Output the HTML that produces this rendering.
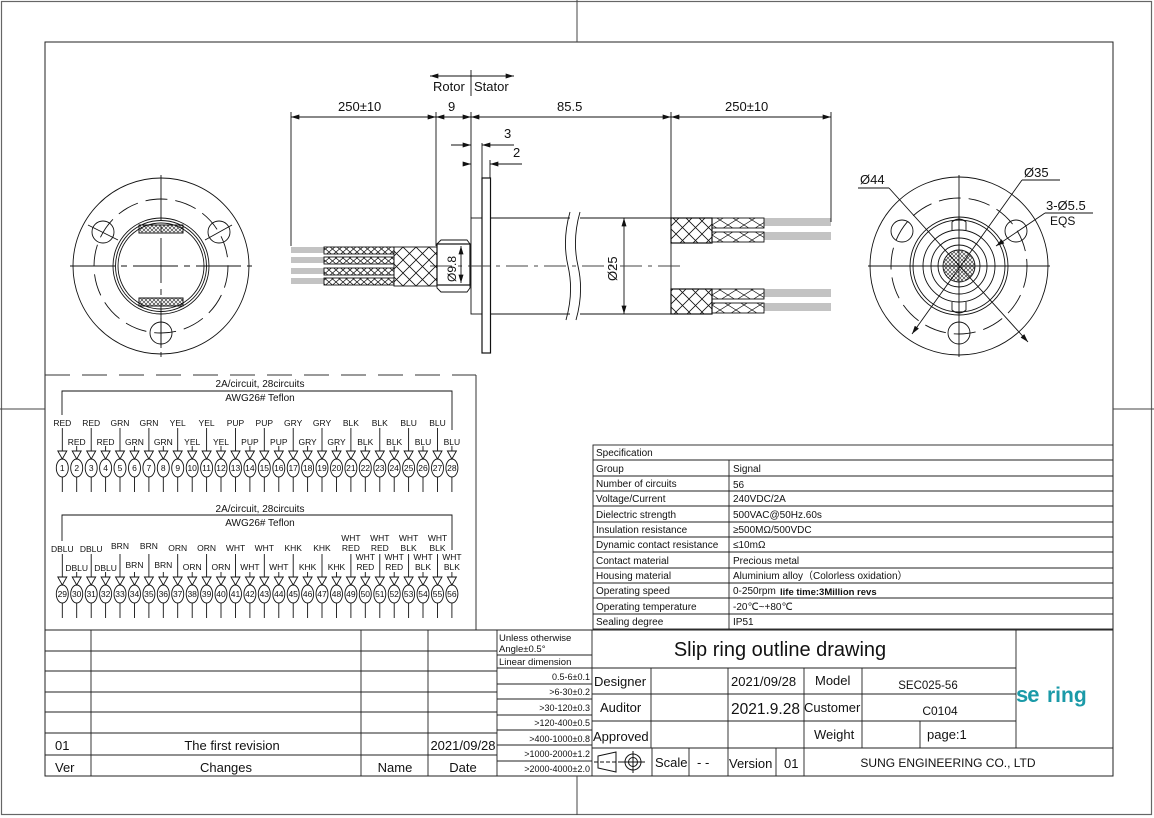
<!DOCTYPE html>
<html><head><meta charset="utf-8"><style>
html,body{margin:0;padding:0;background:#fff;}
svg{display:block;font-family:"Liberation Sans",Arial,sans-serif;}
</style></head><body>
<svg width="1154" height="818" viewBox="0 0 1154 818" xmlns="http://www.w3.org/2000/svg">
<defs>
<pattern id="hb" width="13" height="13" patternUnits="userSpaceOnUse"><path d="M0,0L13,13M13,0L0,13" stroke="#111" stroke-width="0.8"/></pattern>
<pattern id="hs" width="7" height="6" patternUnits="userSpaceOnUse"><path d="M0,0L7,6M7,0L0,6" stroke="#111" stroke-width="0.7"/></pattern>
<pattern id="hr" width="16" height="10" patternUnits="userSpaceOnUse"><path d="M0,0L16,10M16,0L0,10" stroke="#111" stroke-width="0.7"/></pattern>
<pattern id="dots" width="4" height="4" patternUnits="userSpaceOnUse"><circle cx="2" cy="2" r="1.4" fill="none" stroke="#111" stroke-width="0.6"/></pattern>
<marker id="ar" viewBox="0 0 10 6" refX="10" refY="3" markerWidth="9" markerHeight="5" orient="auto-start-reverse" markerUnits="userSpaceOnUse"><path d="M0,0L10,3L0,6z" fill="#111"/></marker>
<g id="wo" stroke="#111" fill="none" stroke-width="0.9"><line x1="0" y1="428" x2="0" y2="451"/><polygon points="-4.5,451 4.5,451 0,459"/><ellipse cx="0" cy="468" rx="6" ry="9"/><line x1="0" y1="477" x2="0" y2="492"/></g>
<g id="we" stroke="#111" fill="none" stroke-width="0.9"><line x1="0" y1="446" x2="0" y2="451"/><polygon points="-4.5,451 4.5,451 0,459"/><ellipse cx="0" cy="468" rx="6" ry="9"/><line x1="0" y1="477" x2="0" y2="492"/></g>
</defs>

<!-- frames -->
<rect x="1.5" y="1.5" width="1150" height="813" fill="none" stroke="#666" stroke-width="1.2"/>
<rect x="45" y="42" width="1068" height="734" fill="none" stroke="#222" stroke-width="1"/>
<line x1="577" y1="0" x2="577" y2="42" stroke="#444"/>
<line x1="577" y1="776" x2="577" y2="815" stroke="#444"/>
<line x1="0" y1="409" x2="45" y2="409" stroke="#444"/>
<line x1="1113" y1="409" x2="1154" y2="409" stroke="#444"/>

<g stroke="#111" fill="none" stroke-width="0.9">
<!-- Left flange view -->
<circle cx="161" cy="266" r="88"/>
<circle cx="161" cy="266" r="67" stroke-dasharray="22,8"/>
<circle cx="103" cy="232" r="11"/><circle cx="219" cy="232" r="11"/><circle cx="161" cy="333" r="11"/>
<circle cx="161" cy="266" r="48"/><circle cx="161" cy="266" r="45.5"/><circle cx="161" cy="266" r="43"/>
<line x1="70" y1="266" x2="252" y2="266" stroke-dasharray="45,6,6,6"/>
<line x1="161" y1="175" x2="161" y2="357" stroke-dasharray="45,6,6,6"/>
<line x1="88" y1="225" x2="118" y2="240"/><line x1="205" y1="240" x2="232" y2="225"/>
<line x1="161" y1="318" x2="161" y2="348"/>
<rect x="139" y="225" width="44" height="8" fill="url(#dots)" stroke-width="1"/>
<rect x="139" y="298" width="44" height="8" fill="url(#dots)" stroke-width="1"/>

<!-- Right flange view -->
<circle cx="959" cy="266" r="89"/>
<circle cx="959" cy="266" r="68" stroke-dasharray="22,8"/>
<circle cx="902" cy="231" r="11"/><circle cx="1016" cy="231" r="11"/><circle cx="959" cy="333" r="11"/>
<circle cx="959" cy="266" r="49"/><circle cx="959" cy="266" r="46"/>
<circle cx="959" cy="266" r="36"/><circle cx="959" cy="266" r="28"/><circle cx="959" cy="266" r="21"/>
<circle cx="959" cy="266" r="16" fill="url(#dots)"/>
<path d="M952,230 L952,222 Q959,216 966,222 L966,230"/><path d="M952,302 L952,310 Q959,316 966,310 L966,302"/>
<line x1="868" y1="266" x2="1050" y2="266"/><line x1="959" y1="175" x2="959" y2="357"/>
<line x1="858" y1="188" x2="889" y2="188"/><line x1="889" y1="188" x2="1028" y2="342" marker-end="url(#ar)"/>
<line x1="1060" y1="180" x2="1022" y2="180"/><line x1="1022" y1="180" x2="912" y2="334" marker-end="url(#ar)"/>
<line x1="1093" y1="213" x2="1045" y2="213"/><line x1="1045" y1="213" x2="996" y2="246" marker-end="url(#ar)"/>

<!-- Side view dims -->
<line x1="471" y1="70" x2="471" y2="96"/>
<line x1="471" y1="76" x2="430" y2="76" marker-end="url(#ar)"/>
<line x1="471" y1="76" x2="514" y2="76" marker-end="url(#ar)"/>
<line x1="291" y1="117" x2="436" y2="117" marker-start="url(#ar)" marker-end="url(#ar)"/>
<line x1="436" y1="117" x2="471" y2="117" marker-start="url(#ar)" marker-end="url(#ar)"/>
<line x1="471" y1="117" x2="671" y2="117" marker-start="url(#ar)" marker-end="url(#ar)"/>
<line x1="671" y1="117" x2="831" y2="117" marker-start="url(#ar)" marker-end="url(#ar)"/>
<line x1="291" y1="112" x2="291" y2="246"/><line x1="436" y1="112" x2="436" y2="246"/>
<line x1="471" y1="112" x2="471" y2="218"/><line x1="671" y1="112" x2="671" y2="218"/><line x1="831" y1="112" x2="831" y2="222"/>
<line x1="451" y1="145" x2="471" y2="145" marker-end="url(#ar)"/>
<line x1="514" y1="145" x2="482" y2="145" marker-end="url(#ar)"/>
<line x1="482" y1="143" x2="482" y2="178"/>
<line x1="463" y1="164" x2="471" y2="164" marker-end="url(#ar)"/>
<line x1="522" y1="164" x2="490" y2="164" marker-end="url(#ar)"/>
<line x1="490" y1="160" x2="490" y2="178"/>
<!-- flange -->
<rect x="482" y="178" width="8.5" height="175" stroke-width="1.2"/>
<!-- body -->
<rect x="471" y="218" width="11" height="96"/>
<path d="M490,218 H570 M580,218 H671 V314 H580 M570,314 H490"/>
<path d="M570,212 Q562,240 568,266 Q574,292 566,320" />
<path d="M580,212 Q572,240 578,266 Q584,292 576,320" />
<line x1="624" y1="218" x2="624" y2="314" marker-start="url(#ar)" marker-end="url(#ar)"/>
<line x1="430" y1="266" x2="685" y2="266" stroke-dasharray="22,6,4,6" stroke="#444"/>
<!-- shaft -->
<path d="M437,244 L441,240 L467,240 L470,244 L470,288 L467,292 L441,292 L437,288 Z"/>
<rect x="437" y="244" width="33" height="41" stroke-width="1.2"/>
<line x1="461" y1="246" x2="461" y2="283" marker-start="url(#ar)" marker-end="url(#ar)"/>
<!-- left braid -->
<rect x="394" y="247" width="43" height="39" fill="url(#hb)"/>
<rect x="324" y="247" width="70" height="7" fill="url(#hs)"/>
<rect x="324" y="257" width="70" height="7" fill="url(#hs)"/>
<rect x="324" y="268" width="70" height="7" fill="url(#hs)"/>
<rect x="324" y="278" width="70" height="7" fill="url(#hs)"/>
<g stroke-width="0.6"><path d="M291,248H324M291,250H324M291,252H324M291,258H324M291,260H324M291,262H324M291,269H324M291,271H324M291,273H324M291,279H324M291,281H324M291,283H324"/></g>
<!-- right braid -->
<rect x="671" y="218" width="41" height="25" fill="url(#hb)" stroke-width="1.2"/>
<rect x="671" y="289" width="41" height="25" fill="url(#hb)" stroke-width="1.2"/>
<rect x="712" y="218" width="52" height="10" fill="url(#hr)"/>
<rect x="712" y="232" width="52" height="10" fill="url(#hr)"/>
<rect x="712" y="289" width="52" height="10" fill="url(#hr)"/>
<rect x="712" y="303" width="52" height="10" fill="url(#hr)"/>
<g stroke-width="0.6"><path d="M764,219H831M764,221H831M764,223H831M764,225H831M764,233H831M764,235H831M764,237H831M764,239H831M764,290H831M764,292H831M764,294H831M764,296H831M764,304H831M764,306H831M764,308H831M764,310H831"/></g>
</g>

<g font-size="13" fill="#111">
<text x="433" y="91">Rotor</text><text x="474" y="91">Stator</text>
<text x="338" y="111">250±10</text><text x="448" y="111">9</text><text x="557" y="111">85.5</text><text x="725" y="111">250±10</text>
<text x="504" y="138">3</text><text x="513" y="157">2</text>
<text transform="translate(617,281) rotate(-90)">Ø25</text>
<text transform="translate(456,282) rotate(-90)" font-size="12">Ø9.8</text>
<text x="860" y="184">Ø44</text><text x="1024" y="177">Ø35</text><text x="1046" y="210">3-Ø5.5</text>
<text x="1050" y="225" font-size="12">EQS</text>
</g>

<!-- wire table -->
<line x1="45" y1="375" x2="476" y2="375" stroke="#333" stroke-dasharray="25,12"/>
<line x1="476" y1="375" x2="476" y2="630" stroke="#333"/>
<g stroke="#111" fill="none" stroke-width="0.9">
<path d="M62,415 V391 H452 V430"/>
<path d="M62,541 V515 H452 V550"/>
</g>
<g font-size="10" fill="#111" text-anchor="middle">
<text x="260" y="387">2A/circuit, 28circuits</text><text x="260" y="401">AWG26#  Teflon</text>
<text x="260" y="512">2A/circuit, 28circuits</text><text x="260" y="526">AWG26#  Teflon</text>
</g>
<g>
<use href="#wo" x="62.3"/><use href="#we" x="76.7"/><use href="#wo" x="91.2"/><use href="#we" x="105.6"/><use href="#wo" x="120"/><use href="#we" x="134.5"/><use href="#wo" x="148.9"/><use href="#we" x="163.3"/><use href="#wo" x="177.7"/><use href="#we" x="192.2"/><use href="#wo" x="206.6"/><use href="#we" x="221"/><use href="#wo" x="235.5"/><use href="#we" x="249.9"/><use href="#wo" x="264.3"/><use href="#we" x="278.8"/><use href="#wo" x="293.2"/><use href="#we" x="307.6"/><use href="#wo" x="322"/><use href="#we" x="336.5"/><use href="#wo" x="350.9"/><use href="#we" x="365.3"/><use href="#wo" x="379.8"/><use href="#we" x="394.2"/><use href="#wo" x="408.6"/><use href="#we" x="423"/><use href="#wo" x="437.5"/><use href="#we" x="451.9"/>
<use href="#wo" x="62.3" y="126"/><use href="#we" x="76.7" y="126"/><use href="#wo" x="91.2" y="126"/><use href="#we" x="105.6" y="126"/><use href="#wo" x="120" y="126"/><use href="#we" x="134.5" y="126"/><use href="#wo" x="148.9" y="126"/><use href="#we" x="163.3" y="126"/><use href="#wo" x="177.7" y="126"/><use href="#we" x="192.2" y="126"/><use href="#wo" x="206.6" y="126"/><use href="#we" x="221" y="126"/><use href="#wo" x="235.5" y="126"/><use href="#we" x="249.9" y="126"/><use href="#wo" x="264.3" y="126"/><use href="#we" x="278.8" y="126"/><use href="#wo" x="293.2" y="126"/><use href="#we" x="307.6" y="126"/><use href="#wo" x="322" y="126"/><use href="#we" x="336.5" y="126"/><use href="#wo" x="350.9" y="126"/><use href="#we" x="365.3" y="126"/><use href="#wo" x="379.8" y="126"/><use href="#we" x="394.2" y="126"/><use href="#wo" x="408.6" y="126"/><use href="#we" x="423" y="126"/><use href="#wo" x="437.5" y="126"/><use href="#we" x="451.9" y="126"/>
</g>
<g font-size="8.5" fill="#111" text-anchor="middle">
<text x="62.3" y="426">RED</text><text x="76.7" y="445">RED</text><text x="91.2" y="426">RED</text><text x="105.6" y="445">RED</text><text x="120" y="426">GRN</text><text x="134.5" y="445">GRN</text><text x="148.9" y="426">GRN</text><text x="163.3" y="445">GRN</text><text x="177.7" y="426">YEL</text><text x="192.2" y="445">YEL</text><text x="206.6" y="426">YEL</text><text x="221" y="445">YEL</text><text x="235.5" y="426">PUP</text><text x="249.9" y="445">PUP</text><text x="264.3" y="426">PUP</text><text x="278.8" y="445">PUP</text><text x="293.2" y="426">GRY</text><text x="307.6" y="445">GRY</text><text x="322" y="426">GRY</text><text x="336.5" y="445">GRY</text><text x="350.9" y="426">BLK</text><text x="365.3" y="445">BLK</text><text x="379.8" y="426">BLK</text><text x="394.2" y="445">BLK</text><text x="408.6" y="426">BLU</text><text x="423" y="445">BLU</text><text x="437.5" y="426">BLU</text><text x="451.9" y="445">BLU</text>
<text x="62.3" y="552">DBLU</text><text x="76.7" y="571">DBLU</text><text x="91.2" y="552">DBLU</text><text x="105.6" y="571">DBLU</text><text x="120" y="549">BRN</text><text x="134.5" y="568">BRN</text><text x="148.9" y="549">BRN</text><text x="163.3" y="568">BRN</text><text x="177.7" y="551">ORN</text><text x="192.2" y="570">ORN</text><text x="206.6" y="551">ORN</text><text x="221" y="570">ORN</text><text x="235.5" y="551">WHT</text><text x="249.9" y="570">WHT</text><text x="264.3" y="551">WHT</text><text x="278.8" y="570">WHT</text><text x="293.2" y="551">KHK</text><text x="307.6" y="570">KHK</text><text x="322" y="551">KHK</text><text x="336.5" y="570">KHK</text>
<text x="350.9" y="541">WHT</text><text x="350.9" y="551">RED</text><text x="365.3" y="560">WHT</text><text x="365.3" y="570">RED</text><text x="379.8" y="541">WHT</text><text x="379.8" y="551">RED</text><text x="394.2" y="560">WHT</text><text x="394.2" y="570">RED</text>
<text x="408.6" y="541">WHT</text><text x="408.6" y="551">BLK</text><text x="423" y="560">WHT</text><text x="423" y="570">BLK</text><text x="437.5" y="541">WHT</text><text x="437.5" y="551">BLK</text><text x="451.9" y="560">WHT</text><text x="451.9" y="570">BLK</text>
</g>
<g font-size="8.5" fill="#111" text-anchor="middle">
<text x="62.3" y="471">1</text><text x="76.7" y="471">2</text><text x="91.2" y="471">3</text><text x="105.6" y="471">4</text><text x="120" y="471">5</text><text x="134.5" y="471">6</text><text x="148.9" y="471">7</text><text x="163.3" y="471">8</text><text x="177.7" y="471">9</text><text x="192.2" y="471">10</text><text x="206.6" y="471">11</text><text x="221" y="471">12</text><text x="235.5" y="471">13</text><text x="249.9" y="471">14</text><text x="264.3" y="471">15</text><text x="278.8" y="471">16</text><text x="293.2" y="471">17</text><text x="307.6" y="471">18</text><text x="322" y="471">19</text><text x="336.5" y="471">20</text><text x="350.9" y="471">21</text><text x="365.3" y="471">22</text><text x="379.8" y="471">23</text><text x="394.2" y="471">24</text><text x="408.6" y="471">25</text><text x="423" y="471">26</text><text x="437.5" y="471">27</text><text x="451.9" y="471">28</text>
<text x="62.3" y="597">29</text><text x="76.7" y="597">30</text><text x="91.2" y="597">31</text><text x="105.6" y="597">32</text><text x="120" y="597">33</text><text x="134.5" y="597">34</text><text x="148.9" y="597">35</text><text x="163.3" y="597">36</text><text x="177.7" y="597">37</text><text x="192.2" y="597">38</text><text x="206.6" y="597">39</text><text x="221" y="597">40</text><text x="235.5" y="597">41</text><text x="249.9" y="597">42</text><text x="264.3" y="597">43</text><text x="278.8" y="597">44</text><text x="293.2" y="597">45</text><text x="307.6" y="597">46</text><text x="322" y="597">47</text><text x="336.5" y="597">48</text><text x="350.9" y="597">49</text><text x="365.3" y="597">50</text><text x="379.8" y="597">51</text><text x="394.2" y="597">52</text><text x="408.6" y="597">53</text><text x="423" y="597">54</text><text x="437.5" y="597">55</text><text x="451.9" y="597">56</text>
</g>

<!-- Spec table -->
<g stroke="#222" stroke-width="0.9" fill="none">
<rect x="593" y="445" width="520" height="184"/>
<path d="M593,460H1113M593,476H1113M593,491H1113M593,506H1113M593,522H1113M593,537H1113M593,552H1113M593,568H1113M593,583H1113M593,598H1113M593,614H1113"/>
<line x1="729" y1="460" x2="729" y2="629"/>
</g>
<g font-size="10" fill="#111">
<text x="596" y="456">Specification</text>
<text x="596" y="472">Group</text><text x="733" y="472">Signal</text>
<text x="596" y="487">Number of circuits</text><text x="733" y="488">56</text>
<text x="596" y="502">Voltage/Current</text><text x="733" y="502">240VDC/2A</text>
<text x="596" y="518">Dielectric strength</text><text x="733" y="518">500VAC@50Hz.60s</text>
<text x="596" y="533">Insulation resistance</text><text x="733" y="533">≥500MΩ/500VDC</text>
<text x="596" y="548">Dynamic contact resistance</text><text x="733" y="548">≤10mΩ</text>
<text x="596" y="564">Contact material</text><text x="733" y="564">Precious metal</text>
<text x="596" y="579">Housing material</text><text x="733" y="579">Aluminium alloy（Colorless oxidation）</text>
<text x="596" y="594">Operating speed</text><text x="733" y="594">0-250rpm</text><text x="780" y="595" font-weight="bold" font-size="9.5">life time:3Million revs</text>
<text x="596" y="610">Operating temperature</text><text x="733" y="610">-20℃~+80℃</text>
<text x="596" y="625">Sealing degree</text><text x="733" y="625">IP51</text>
</g>

<!-- Title block -->
<g stroke="#222" stroke-width="0.9" fill="none">
<line x1="45" y1="630" x2="1113" y2="630"/>
<path d="M45,651H497M45,671H497M45,692H497M45,712H497M45,733H497M45,755H497"/>
<path d="M91,630V776M361,630V776M428,630V776M497,630V776"/>
<line x1="497" y1="655" x2="592" y2="655"/>
<path d="M497,668H592M497,684H592M497,699H592M497,715H592M497,730H592M497,745H592M497,761H592"/>
<line x1="592" y1="630" x2="592" y2="776"/>
<line x1="592" y1="668" x2="1016" y2="668"/>
<line x1="592" y1="694" x2="1016" y2="694"/>
<line x1="592" y1="721" x2="1016" y2="721"/>
<line x1="592" y1="748" x2="1113" y2="748"/>
<line x1="1016" y1="630" x2="1016" y2="748"/>
<path d="M651,668V748M728,668V776M804,668V776M862,668V748M920,721V748"/>
<path d="M652,748V776M689,748V776M776,748V776"/>
</g>
<g fill="#111">
<g font-size="13">
<text x="55" y="750">01</text><text x="232" y="750" text-anchor="middle">The first revision</text><text x="463" y="750" text-anchor="middle">2021/09/28</text>
<text x="55" y="772">Ver</text><text x="226" y="772" text-anchor="middle">Changes</text><text x="395" y="772" text-anchor="middle">Name</text><text x="463" y="772" text-anchor="middle">Date</text>
</g>
<g font-size="9.5">
<text x="499" y="641">Unless otherwise</text><text x="499" y="652">Angle±0.5°</text><text x="499" y="665">Linear dimension</text>
</g>
<g font-size="9" text-anchor="end">
<text x="590" y="680">0.5-6±0.1</text><text x="590" y="695">&gt;6-30±0.2</text><text x="590" y="711">&gt;30-120±0.3</text><text x="590" y="726">&gt;120-400±0.5</text><text x="590" y="742">&gt;400-1000±0.8</text><text x="590" y="757">&gt;1000-2000±1.2</text><text x="590" y="772">&gt;2000-4000±2.0</text>
</g>
<text x="780" y="656" font-size="20" text-anchor="middle">Slip ring outline drawing</text>
<g font-size="13">
<text x="594" y="686">Designer</text><text x="600" y="712">Auditor</text><text x="593" y="741">Approved</text>
<text x="731" y="686">2021/09/28</text><text x="731" y="714" font-size="15.5">2021.9.28</text>
<text x="815" y="685">Model</text><text x="804" y="712">Customer</text><text x="814" y="739">Weight</text>
<text x="928" y="689" font-size="11.5" text-anchor="middle">SEC025-56</text><text x="940" y="715" font-size="12" text-anchor="middle">C0104</text>
<text x="927" y="739">page:1</text>
<text x="655" y="767">Scale</text><text x="697" y="767">- -</text><text x="729" y="768">Version</text><text x="784" y="768">01</text>
<text x="948" y="767" font-size="12" text-anchor="middle">SUNG ENGINEERING CO., LTD</text>
</g>
<text x="1016" y="702" font-size="22" font-weight="bold" fill="#1b9aa8" letter-spacing="-1">se</text>
<text x="1047" y="702" font-size="21" font-weight="bold" fill="#1b9aa8">ring</text>
</g>
<!-- projection symbol -->
<g stroke="#111" fill="none" stroke-width="1">
<path d="M598,756 L616,752 L616,772 L598,768 Z"/>
<line x1="594" y1="762" x2="622" y2="762" stroke-dasharray="4,2"/>
<circle cx="633" cy="762" r="8"/><circle cx="633" cy="762" r="4.5"/>
<line x1="622" y1="762" x2="645" y2="762"/><line x1="633" y1="751" x2="633" y2="773"/>
</g>
</svg>
</body></html>
